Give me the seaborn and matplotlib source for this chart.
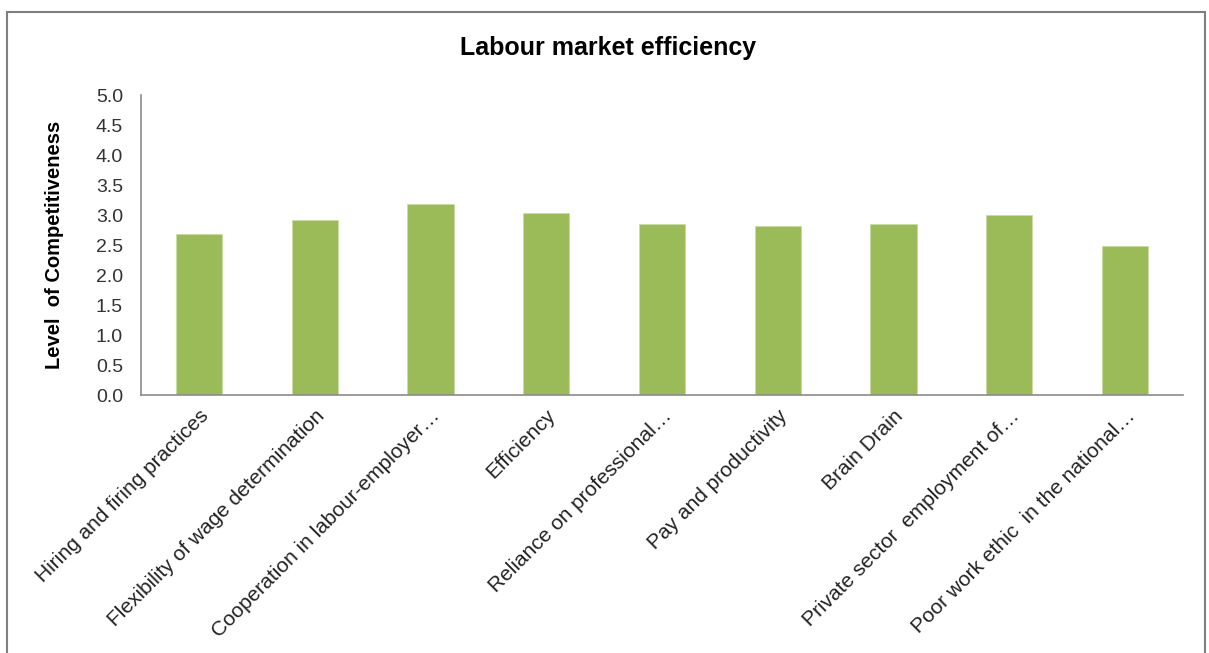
import matplotlib
matplotlib.use("Agg")
import matplotlib.pyplot as plt
import seaborn as sns
import pandas as pd
from matplotlib.patches import Rectangle

categories = [
    "Hiring and firing practices",
    "Flexibility of wage determination",
    "Cooperation in labour-employer\u2026",
    "Efficiency",
    "Reliance on professional\u2026",
    "Pay and productivity",
    "Brain Drain",
    "Private sector  employment of\u2026",
    "Poor work ethic  in the national\u2026",
]
scores = [2.68, 2.92, 3.19, 3.04, 2.85, 2.81, 2.85, 3.00, 2.49]
y_ticks = [0.0, 0.5, 1.0, 1.5, 2.0, 2.5, 3.0, 3.5, 4.0, 4.5, 5.0]

sns.set_theme(style="white")
plt.rcParams["font.family"] = ["Liberation Sans", "DejaVu Sans"]

df = pd.DataFrame({"category": categories, "score": scores})

fig = plt.figure(figsize=(12.09, 6.53), dpi=100)
ax = fig.add_axes([141 / 1209, 1 - 395 / 653, (1183 - 141) / 1209, 300 / 653])

sns.barplot(data=df, x="category", y="score", color="#9BBB59", width=0.4,
            saturation=1, ax=ax, edgecolor="#C9DCA3", linewidth=0.6)

ax.set_ylim(0, 5)
ax.set_xlim(-0.5, len(categories) - 0.5)
ax.set_yticks(y_ticks)
ax.set_yticklabels([f"{v:.1f}" for v in y_ticks], fontsize=14, color="#333333")
ax.set_xticks(range(len(categories)))
ax.set_xticklabels(categories, rotation=45, ha="right", rotation_mode="anchor",
                   fontsize=15, color="#222222")
ax.tick_params(axis="x", length=0, pad=8)
ax.tick_params(axis="y", length=0, pad=13)

for side in ["top", "right"]:
    ax.spines[side].set_visible(False)
for side in ["left", "bottom"]:
    ax.spines[side].set_color("#8C8C8C")
    ax.spines[side].set_linewidth(1.2)

ax.set_xlabel("")
ax.set_ylabel("Level  of Competitiveness", fontsize=14.5, fontweight="bold",
              color="black")
ax.yaxis.set_label_coords(-0.074, 0.5)

fig.text(0.503, 1 - 48 / 653, "Labour market efficiency", ha="center", va="center",
         fontsize=18, fontweight="bold", color="black")

# outer chart frame
fig.patches.append(Rectangle((7 / 1209, -0.05), (1205 - 7) / 1209, 1.05 - 12 / 653,
                             transform=fig.transFigure, fill=False,
                             edgecolor="#7F7F7F", linewidth=1.5))

fig.savefig("out.png", dpi=100, facecolor="white")
